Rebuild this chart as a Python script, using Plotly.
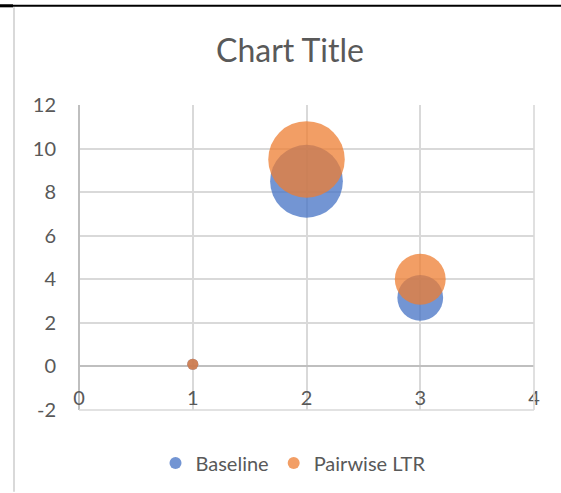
import math
import plotly.graph_objects as go

# --- data -------------------------------------------------------------
series_names = ["Baseline", "Pairwise LTR"]
x_values = [1, 2, 3]
baseline_y = [0.1, 8.5, 3.15]
baseline_size = [0.2, 8.6, 3.4]
pairwise_y = [0.1, 9.5, 4.0]
pairwise_size = [0.2, 9.5, 4.2]

x_ticks = [0, 1, 2, 3, 4]
x_tick_labels = ["0", "1", "2", "3", "4"]
y_ticks = [-2, 0, 2, 4, 6, 8, 10, 12]
y_tick_labels = ["-2", "0", "2", "4", "6", "8", "10", "12"]

# --- styling ----------------------------------------------------------
W, H = 561, 493
M_L, M_R, M_T, M_B = 79, 27, 105, 82
PLOT_W = W - M_L - M_R
PLOT_H = H - M_T - M_B
FONT = "Lato"
TEXT_GREY = "#595959"
GRID = "#d9d9d9"
AXIS = "#bfbfbf"
BLUE = "#4472C4"
ORANGE = "#ED7D31"
TICK_SIZE = 20

# largest bubble diameter: a quarter of the smaller plot dimension
D_MAX = 0.25 * min(PLOT_W, PLOT_H)
size_max = max(baseline_size + pairwise_size)


def diameters(sizes):
    # bubble area proportional to the size value
    return [D_MAX * math.sqrt(s / size_max) for s in sizes]


def px_x(px):
    return (px - M_L) / PLOT_W


def px_y(py):
    return (H - M_B - py) / PLOT_H


fig = go.Figure()
for name, ys, sizes, color in [
    (series_names[0], baseline_y, baseline_size, BLUE),
    (series_names[1], pairwise_y, pairwise_size, ORANGE),
]:
    fig.add_trace(go.Scatter(
        x=x_values, y=ys, name=name, mode="markers",
        marker=dict(size=diameters(sizes), sizemode="diameter",
                    color=color, opacity=0.75, line=dict(width=0)),
        hoverinfo="skip",
    ))

axis_common = dict(showgrid=True, gridcolor=GRID, gridwidth=1.6,
                   zeroline=True, zerolinecolor=AXIS, zerolinewidth=1.6,
                   showline=False, ticks="", fixedrange=True,
                   tickfont=dict(size=TICK_SIZE, color=TEXT_GREY))

fig.update_layout(
    width=W, height=H,
    margin=dict(l=M_L, r=M_R, t=M_T, b=M_B),
    paper_bgcolor="white", plot_bgcolor="white",
    font=dict(family=FONT, color=TEXT_GREY, size=TICK_SIZE),
    title=dict(text="Chart Title", x=290 / W, xanchor="center",
               xref="container", yref="container",
               y=1 - 51 / H, yanchor="middle",
               font=dict(family=FONT, size=32, color=TEXT_GREY)),
    showlegend=True,
    legend=dict(orientation="h", x=px_x(293), xanchor="center",
                xref="paper", y=px_y(463), yanchor="middle",
                itemsizing="constant",
                font=dict(size=TICK_SIZE, color=TEXT_GREY),
                bgcolor="rgba(0,0,0,0)"),
    xaxis=dict(range=[0, 4], tickvals=x_ticks, showticklabels=False,
               **axis_common),
    # labels for the horizontal axis sit just above the lowest gridline
    xaxis2=dict(range=[0, 4], tickvals=x_ticks, ticktext=x_tick_labels,
                overlaying="x", anchor="free", position=px_y(385),
                side="bottom", showgrid=False, zeroline=False,
                showline=False, ticks="", fixedrange=True,
                tickfont=dict(size=TICK_SIZE, color=TEXT_GREY)),
    yaxis=dict(range=[-2, 12], tickvals=y_ticks, ticktext=y_tick_labels,
               ticklabelstandoff=22, **axis_common),
    shapes=[
        # right and bottom plot-area borders
        dict(type="line", xref="paper", yref="paper", x0=1, x1=1, y0=0, y1=1,
             line=dict(color=GRID, width=1.6)),
        dict(type="line", xref="paper", yref="paper", x0=0, x1=1, y0=0, y1=0,
             line=dict(color=GRID, width=1.6)),
        # sheet frame: dark top rule and light left edge
        dict(type="line", xref="paper", yref="paper", x0=px_x(0), x1=px_x(W),
             y0=px_y(5.5), y1=px_y(5.5), line=dict(color="black", width=2)),
        dict(type="line", xref="paper", yref="paper", x0=px_x(0), x1=px_x(13),
             y0=px_y(5.5), y1=px_y(5.5), line=dict(color="black", width=3)),
        dict(type="line", xref="paper", yref="paper", x0=px_x(14), x1=px_x(14),
             y0=px_y(7), y1=px_y(H), line=dict(color=GRID, width=2)),
    ],
)

# invisible companion trace so the second x-axis is drawn
fig.add_trace(go.Scatter(x=[None], y=[None], xaxis="x2", showlegend=False,
                         hoverinfo="skip"))

fig.write_html("out.html")
